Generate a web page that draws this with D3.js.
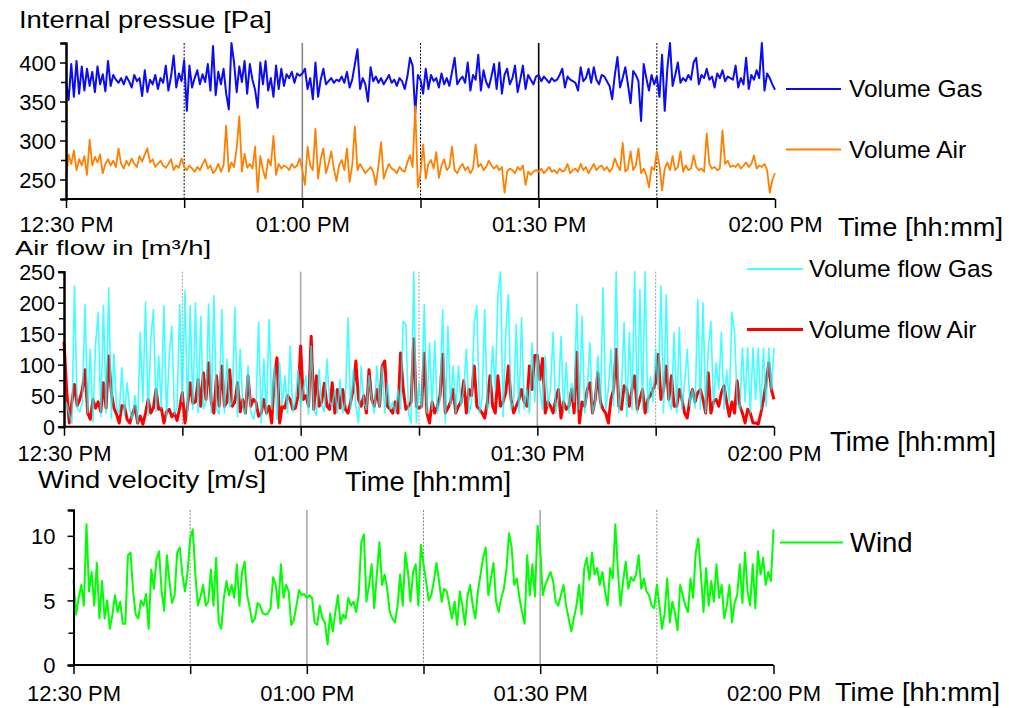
<!DOCTYPE html>
<html><head><meta charset="utf-8">
<script src="https://cdn.jsdelivr.net/npm/d3@7"></script>
<style>
html,body{margin:0;padding:0;background:#fff;}
text{font-family:"Liberation Sans",Arial,sans-serif;fill:#000;}
</style></head>
<body><svg id="c" width="1009" height="708"></svg>
<script>
// ---- data: 20-second samples from 12:30 PM to 02:00 PM ----
const startTime = new Date(2020,0,1,12,30,0);
const stepSeconds = 20;
const xTickLabels = ["12:30 PM","01:00 PM","01:30 PM","02:00 PM"];

const pressureGas = [
376,352,398,356,402,360,395,364,392,370,388,362,395,372,385,
363,402,370,384,378,374,380,372,382,376,368,384,376,380,357,
390,362,378,372,384,366,380,374,396,364,382,409,368,386,376,
403,338,396,368,380,390,372,385,375,398,364,421,358,388,372,
392,360,340,425,400,362,395,375,402,360,398,378,365,342,400,
372,402,364,380,356,396,366,392,370,385,380,388,374,386,383,
386,392,366,380,353,400,356,378,392,372,376,380,374,378,376,
382,374,388,368,378,398,417,366,380,372,350,394,376,382,374,
380,372,378,384,374,378,370,380,376,366,382,406,396,335,384,
378,360,392,366,384,376,380,368,386,372,380,370,388,406,372,
378,382,374,400,364,384,378,410,364,390,375,368,382,398,366,
400,360,384,392,372,380,396,362,378,396,366,384,378,372,382,
384,376,382,378,374,380,376,378,384,392,368,382,378,376,374,
364,394,376,380,392,374,394,378,372,384,382,376,370,353,384,
407,368,380,394,372,348,389,384,376,325,398,380,364,384,372,
382,356,410,338,392,425,370,384,400,374,380,376,384,378,400,
406,372,384,380,392,378,382,368,386,380,390,376,382,380,378,
396,368,380,372,406,366,384,378,390,380,425,364,386,380,372,365];

const pressureAir = [
249,282,270,287,262,276,268,280,256,301,268,279,272,282,258,
270,276,268,274,266,290,270,264,274,268,277,270,266,280,273,
282,290,272,276,266,270,274,268,265,270,276,262,268,265,277,
266,262,268,264,260,266,262,270,276,264,268,258,262,270,260,
268,319,260,272,266,290,331,260,283,265,270,264,292,234,280,
262,251,276,268,306,256,270,264,268,266,262,270,265,268,277,
262,243,292,268,262,315,251,276,290,258,270,286,264,248,268,
275,262,290,247,268,318,262,270,264,258,262,266,260,243,268,
298,251,262,270,264,262,258,266,262,260,272,281,266,344,240,
258,295,251,270,275,264,285,252,268,276,262,266,292,262,258,
266,270,262,266,258,264,295,266,270,262,266,274,268,264,268,
262,266,233,260,264,262,258,266,262,268,243,260,256,260,262,
260,264,258,262,266,260,262,258,264,260,262,270,258,262,264,
260,270,262,266,258,264,270,262,266,268,262,266,260,264,277,
268,262,297,260,264,286,262,268,290,258,264,256,240,266,262,
286,268,236,264,272,262,280,262,266,286,260,268,262,264,281,
266,262,264,260,309,270,264,266,262,264,313,270,274,266,268,
266,270,264,268,272,266,270,281,264,268,266,270,262,233,250,258];

const flowGas = [
44,38,20,6,227,30,24,40,197,22,125,8,132,184,16,
196,22,224,14,117,30,20,95,18,71,26,12,50,6,152,
40,201,18,141,189,24,114,30,195,14,114,162,20,30,197,
40,219,18,195,28,200,22,178,28,40,198,22,211,28,20,
189,22,109,32,40,192,16,125,33,20,98,24,12,30,168,
6,109,18,173,28,98,12,103,34,82,22,130,24,44,92,
33,60,82,20,130,28,18,92,34,24,109,40,33,60,22,
76,22,40,176,28,92,34,6,98,40,28,82,44,22,98,
33,98,22,71,28,40,22,60,28,170,165,22,6,250,6,
71,30,197,22,135,28,138,22,44,189,6,162,34,98,22,
98,33,60,125,22,40,168,195,22,44,189,28,40,130,60,
211,250,16,152,213,28,40,165,22,176,28,60,22,135,40,
119,60,28,114,33,60,152,22,44,146,28,103,22,70,40,
197,28,178,22,60,135,22,40,114,30,224,28,60,125,34,
250,22,60,168,16,152,28,250,22,221,28,250,22,80,40,
125,60,227,22,213,40,28,152,22,160,28,70,125,34,60,
30,205,28,200,22,125,170,33,103,60,152,28,90,40,184,
152,40,28,127,40,127,22,127,44,127,28,127,33,127,60,127];

const flowAir = [
137,60,6,40,68,34,44,60,92,22,12,44,30,40,24,
71,30,114,55,30,20,6,34,33,12,6,20,33,6,17,
4,22,44,22,30,60,28,30,6,24,28,16,22,10,30,
55,6,34,71,38,40,76,33,87,44,103,40,22,82,33,
98,33,40,92,33,40,71,24,44,22,82,33,44,40,17,
22,44,22,33,6,82,111,6,33,30,50,44,28,30,50,
130,44,50,33,146,28,82,33,40,70,33,28,71,22,60,
30,60,28,22,40,60,106,44,33,50,22,92,44,33,60,
33,98,106,33,28,22,40,22,119,60,28,33,40,142,33,
30,33,119,22,6,40,22,33,50,117,22,30,40,60,22,
33,40,74,22,60,50,98,33,28,22,14,40,82,33,22,
82,33,40,55,98,44,22,33,44,60,40,33,98,60,115,
115,76,110,22,40,33,22,44,60,14,40,28,33,60,22,
120,6,40,33,60,71,22,44,87,40,28,22,6,44,60,
125,33,28,66,60,33,60,82,28,44,60,22,44,50,60,
71,117,44,60,98,44,82,33,33,60,44,22,14,44,60,
40,55,60,44,22,87,22,40,44,33,55,66,40,17,40,
22,74,33,22,6,28,22,6,6,4,22,44,71,103,60,44];

const wind = [
6.6,3.9,5.2,6.2,4.6,10.9,5.7,7.2,4.6,7.9,3.6,6.5,3.6,5.0,2.8,
3.9,5.4,4.1,4.9,3.2,3.2,8.5,8.7,5.7,3.9,3.6,5.0,4.6,5.5,2.8,
7.4,5.9,8.2,8.8,5.7,4.2,8.5,6.5,4.8,5.4,8.7,9.1,7.0,5.7,7.2,
9.8,10.5,7.0,4.6,5.3,6.2,4.6,4.9,7.4,4.6,8.3,3.3,2.8,5.2,6.5,
5.4,6.2,5.2,7.8,4.6,7.2,8.0,5.4,4.4,3.3,3.6,4.8,4.6,4.0,3.9,
4.0,4.4,6.8,6.2,4.4,7.8,5.2,6.2,5.7,3.1,3.5,4.6,5.8,5.4,5.5,
5.2,5.4,5.2,3.3,3.1,4.6,3.6,3.3,1.6,4.0,2.6,4.1,5.4,3.2,3.9,
3.6,5.2,4.6,4.9,4.1,5.4,9.5,10.1,4.9,6.2,7.8,4.4,7.0,9.5,6.2,
7.0,5.9,4.1,3.6,3.3,4.6,7.0,4.6,8.7,7.2,4.9,7.2,7.8,4.6,9.3,
7.8,6.5,5.0,5.4,6.5,7.9,6.5,4.9,5.9,5.7,4.6,3.6,4.9,3.1,5.7,
4.6,3.1,5.4,6.2,4.6,3.6,5.7,7.0,8.3,9.1,5.4,6.7,7.9,4.9,4.1,
5.2,5.9,7.4,10.2,9.1,6.2,6.7,5.2,4.1,3.2,8.5,5.4,7.8,5.3,10.8,
9.1,5.4,6.2,6.7,7.2,6.5,4.9,4.6,5.4,6.2,4.6,3.6,2.6,3.6,4.6,
6.2,3.9,7.5,8.3,6.6,8.7,7.0,7.5,6.2,7.2,5.7,4.6,7.5,6.7,10.9,
7.2,4.6,6.5,8.0,5.9,6.8,6.5,7.0,8.5,5.9,6.7,5.7,5.4,4.6,4.4,
6.2,4.6,2.8,4.0,6.7,3.3,4.9,4.0,2.7,6.2,5.4,4.6,4.1,6.7,5.2,
8.7,9.8,7.0,4.1,7.5,4.6,6.5,4.9,7.8,5.2,6.2,3.6,4.6,6.2,3.3,
4.8,5.4,7.8,4.8,8.7,5.7,4.6,7.8,4.4,8.8,7.0,8.3,6.2,7.2,6.5,10.5];

const pressureTicks = [250,300,350,400];
const flowTicks = [0,50,100,150,200,250];
const windTicks = [0,5,10];

// ---- drawing ----
const svg = d3.select("#c");
const t0 = startTime, t1 = new Date(+startTime + 90*60000);
const timeOf = i => new Date(+startTime + i*stepSeconds*1000);
const fmt = d3.timeFormat("%I:%M %p");

function panel(cfg){
  const x = d3.scaleTime().domain([t0,t1]).range([cfg.x0,cfg.x1]);
  const y = d3.scaleLinear().domain(cfg.domain).range([cfg.yb,cfg.yt]);
  const g = svg.append("g");
  // vertical guide lines
  const qs = d3.timeMinute.every(15).range(t0,t1).slice(1);
  qs.forEach(d=>{
    const solid = d.getMinutes()===0 || d.getMinutes()===30;
    g.append("line").attr("x1",x(d)).attr("x2",x(d)).attr("y1",cfg.yt).attr("y2",cfg.yb)
      .attr("stroke", solid ? cfg.solidColor(d) : cfg.dotColor)
      .attr("stroke-width", solid ? 1.6 : 1)
      .attr("stroke-dasharray", solid ? null : "2,1.5");
  });
  // series
  cfg.series.forEach(s=>{
    const line = d3.line().x((d,i)=>x(timeOf(i))).y(d=>y(d));
    g.append("path").datum(s.data).attr("d",line).attr("fill","none")
      .attr("stroke",s.color).attr("stroke-width",s.w).attr("stroke-opacity",s.op||1)
      .attr("stroke-linejoin","round");
  });
  // y axis
  const ya = d3.axisLeft(y).tickValues(cfg.minor).tickSize(5).tickFormat("");
  const yg = g.append("g").attr("transform",`translate(${cfg.x0},0)`).call(ya);
  const ya2 = d3.axisLeft(y).tickValues(cfg.ticks).tickSize(6).tickFormat(d3.format("d"));
  const yg2 = g.append("g").attr("transform",`translate(${cfg.x0},0)`).call(ya2);
  [yg,yg2].forEach(a=>{a.select(".domain").attr("stroke","#000").attr("stroke-width",2);
    a.selectAll(".tick line").attr("stroke","#000").attr("stroke-width",1.5);});
  yg2.selectAll(".tick text").attr("font-size",cfg.ytSize).attr("x",cfg.ylx).attr("dy","0.36em")
     .style("font-family","Liberation Sans, Arial");
  // x axis
  const xa = d3.axisBottom(x).ticks(d3.timeMinute.every(15)).tickSize(9)
     .tickFormat(d=>{const s=fmt(d); return xTickLabels.includes(s)?s:"";});
  const xg = g.append("g").attr("transform",`translate(0,${cfg.yb})`).call(xa);
  xg.select(".domain").attr("stroke","#000").attr("stroke-width",2).attr("d",`M${cfg.x0},0H${cfg.x1}`);
  xg.selectAll(".tick line").attr("stroke","#000").attr("stroke-width",1.5);
  xg.selectAll(".tick text").attr("font-size",22).attr("y",cfg.xly).attr("dy",0)
     .style("font-family","Liberation Sans, Arial");
  return {x,y};
}

panel({x0:66,x1:775,yt:43,yb:199,domain:[225,425],ticks:pressureTicks,minor:[275,325,375,425],
  ylx:-10,ytSize:22,xly:33,dotColor:"#000",solidColor:d=>d.getMinutes()===0?"#888":"#000",
  series:[{data:pressureGas,color:"#0b0bf5",w:2},{data:pressureAir,color:"#ff8000",w:1.8}]});
panel({x0:64,x1:774,yt:271.7,yb:426.7,domain:[0,250],ticks:flowTicks,minor:[25,75,125,175,225],
  ylx:-9,ytSize:21.5,xly:34,dotColor:"#999",solidColor:d=>"#aaa",
  series:[{data:flowAir,color:"#ff0000",w:3},{data:flowGas,color:"#00ffff",w:1.6,op:0.75}]});
panel({x0:73.5,x1:773.5,yt:510,yb:665,domain:[0,12],ticks:windTicks,minor:[2.5,7.5],
  ylx:-18,ytSize:22,xly:36,dotColor:"#888",solidColor:d=>"#aaa",
  series:[{data:wind,color:"#00ff00",w:2}]});

// texts
function txt(s,x,y,size,len){
  const t = svg.append("text").attr("x",x).attr("y",y).attr("font-size",size).text(s);
  if(len) t.attr("textLength",len).attr("lengthAdjust","spacingAndGlyphs");
  return t;
}
txt("Internal pressue [Pa]",19,28,24,253);
txt("Air flow in [m³/h]",15,255.3,20.5,196);
txt("Wind velocity [m/s]",38,488,23.5,228);
txt("Time [hh:mm]",838,236,26,165);
txt("Time [hh:mm]",830,451,27,166);
txt("Time [hh:mm]",345,491,27,166);
txt("Time [hh:mm]",835,701,25,165);

function legend(x1,x2,y,color,w,label,tx,ty,size,op){
  svg.append("line").attr("x1",x1).attr("x2",x2).attr("y1",y).attr("y2",y)
    .attr("stroke",color).attr("stroke-width",w).attr("stroke-opacity",op||1);
  txt(label,tx,ty,size);
}
legend(786,841,89,"#0b0bf5",2,"Volume Gas",849,97,24.5);
legend(786,841,149.5,"#ff8000",1.8,"Volume Air",849,158,24.5);
legend(747,803,269,"#00ffff",2,"Volume flow Gas",809,277,24.5,0.75);
legend(747,803,329.5,"#ff0000",3,"Volume flow Air",809,338,24.5);
legend(780,843,542.5,"#00ff00",2,"Wind",850,551.5,27.5);
</script></body></html>
